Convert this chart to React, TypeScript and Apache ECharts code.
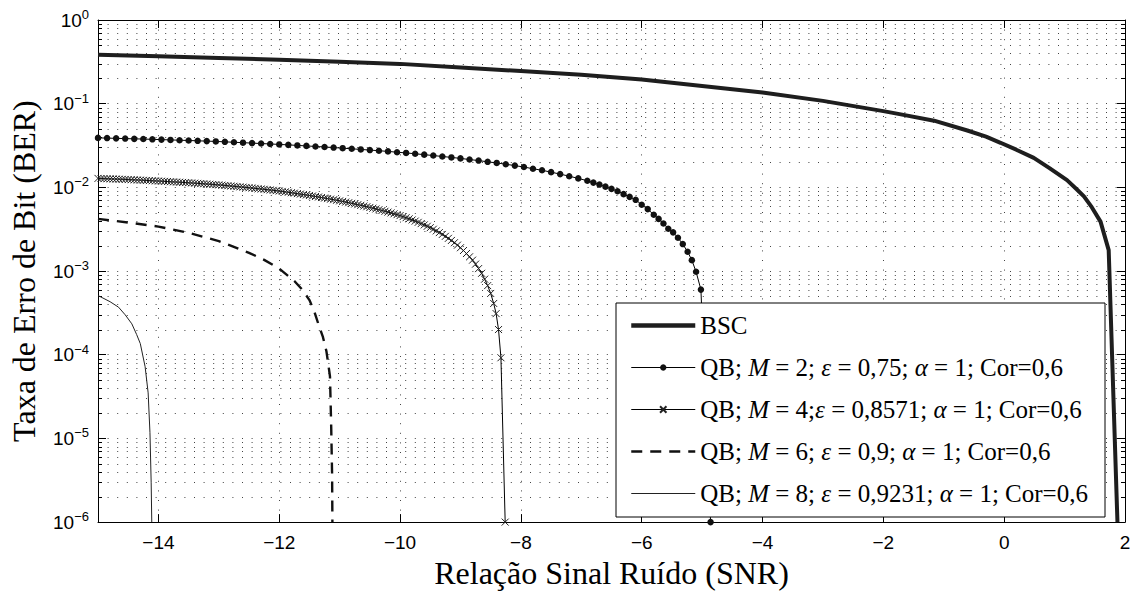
import React, { useEffect, useRef } from 'react';
import * as echarts from 'echarts';

// Axis ranges
const xMin = -15;
const xMax = 2;
const yMin = 1e-6;
const yMax = 1;

// Minor grid (2..9 per decade)
const decades = [1e-6, 1e-5, 1e-4, 1e-3, 1e-2, 1e-1];
const minorMultipliers = [2, 3, 4, 5, 6, 7, 8, 9];

// BSC
const bscSnr = [-15, -14, -13, -12, -11, -10, -9, -8, -7, -6, -5, -4, -3, -2, -1.71, -1.16, -0.61, -0.3, -0.06, 0.2, 0.49, 0.75, 1.04, 1.2, 1.32, 1.45, 1.595, 1.73, 1.875];
const bscBer = [0.385, 0.368, 0.352, 0.336, 0.318, 0.299, 0.271, 0.245, 0.221, 0.195, 0.163, 0.136, 0.108, 0.0815, 0.0745, 0.0626, 0.0478, 0.0403, 0.0341, 0.0282, 0.0225, 0.017, 0.0122, 0.0095, 0.0078, 0.0058, 0.0039, 0.00178, 0.000001];

// QB M=2
const m2Snr = [-15, -14.85, -14.7, -14.55, -14.4, -14.25, -14.1, -13.95, -13.8, -13.65, -13.5, -13.35, -13.2, -13.05, -12.9, -12.75, -12.6, -12.45, -12.3, -12.15, -12, -11.85, -11.7, -11.55, -11.4, -11.25, -11.1, -10.95, -10.8, -10.65, -10.5, -10.35, -10.2, -10.05, -9.9, -9.75, -9.6, -9.45, -9.3, -9.15, -9, -8.85, -8.7, -8.55, -8.4, -8.25, -8.1, -7.95, -7.8, -7.65, -7.5, -7.35, -7.2, -7.05, -6.9, -6.8, -6.7, -6.6, -6.5, -6.4, -6.3, -6.2, -6.1, -6, -5.9, -5.8, -5.72, -5.64, -5.56, -5.48, -5.4, -5.32, -5.24, -5.17, -5.1, -5.02, -4.86];
const m2Ber = [0.039, 0.0388, 0.0385, 0.0383, 0.038, 0.0378, 0.0375, 0.0372, 0.0369, 0.0366, 0.0363, 0.036, 0.0357, 0.0354, 0.035, 0.0346, 0.0342, 0.0338, 0.0334, 0.033, 0.0326, 0.0322, 0.0317, 0.0313, 0.0308, 0.0304, 0.0299, 0.0294, 0.0289, 0.0284, 0.0279, 0.0274, 0.0269, 0.0263, 0.0258, 0.0252, 0.0246, 0.024, 0.0234, 0.0228, 0.0222, 0.0215, 0.0209, 0.0202, 0.0196, 0.0189, 0.0182, 0.0175, 0.0167, 0.016, 0.0152, 0.0144, 0.0136, 0.0128, 0.012, 0.0114, 0.0108, 0.0102, 0.0096, 0.009, 0.0083, 0.0077, 0.0071, 0.0062, 0.0055, 0.0047, 0.0042, 0.0037, 0.0032, 0.0029, 0.0025, 0.0021, 0.0017, 0.00135, 0.00098, 0.0006, 0.000001];

// QB M=4
const m4Snr = [-15, -14.95, -14.9, -14.85, -14.8, -14.75, -14.7, -14.65, -14.6, -14.55, -14.5, -14.45, -14.4, -14.35, -14.3, -14.25, -14.2, -14.15, -14.1, -14.05, -14, -13.95, -13.9, -13.85, -13.8, -13.75, -13.7, -13.65, -13.6, -13.55, -13.5, -13.45, -13.4, -13.35, -13.3, -13.25, -13.2, -13.15, -13.1, -13.05, -13, -12.95, -12.9, -12.85, -12.8, -12.75, -12.7, -12.65, -12.6, -12.55, -12.5, -12.45, -12.4, -12.35, -12.3, -12.25, -12.2, -12.15, -12.1, -12.05, -12, -11.95, -11.9, -11.85, -11.8, -11.75, -11.7, -11.65, -11.6, -11.55, -11.5, -11.45, -11.4, -11.35, -11.3, -11.25, -11.2, -11.15, -11.1, -11.05, -11, -10.95, -10.9, -10.85, -10.8, -10.75, -10.7, -10.65, -10.6, -10.55, -10.5, -10.45, -10.4, -10.35, -10.3, -10.25, -10.2, -10.15, -10.1, -10.05, -10, -9.95, -9.9, -9.85, -9.8, -9.75, -9.7, -9.65, -9.6, -9.55, -9.5, -9.45, -9.4, -9.35, -9.3, -9.25, -9.2, -9.15, -9.1, -9.05, -9, -8.95, -8.9, -8.85, -8.8, -8.75, -8.7, -8.65, -8.6, -8.55, -8.5, -8.45, -8.41, -8.37, -8.33, -8.26];
const m4Ber = [0.0128, 0.01276, 0.01272, 0.01268, 0.01264, 0.0126, 0.01256, 0.01252, 0.01248, 0.01244, 0.0124, 0.01235, 0.0123, 0.01225, 0.0122, 0.01215, 0.0121, 0.01205, 0.012, 0.01195, 0.0119, 0.01185, 0.01179, 0.01174, 0.01168, 0.01163, 0.01157, 0.01152, 0.01146, 0.01141, 0.01135, 0.01129, 0.01122, 0.01116, 0.01109, 0.01103, 0.01096, 0.0109, 0.01083, 0.01077, 0.0107, 0.01062, 0.01054, 0.01046, 0.01038, 0.0103, 0.01022, 0.01014, 0.01006, 0.00998, 0.0099, 0.00981, 0.00973, 0.00964, 0.00956, 0.00948, 0.00939, 0.00931, 0.00922, 0.00914, 0.00905, 0.00895, 0.00884, 0.00874, 0.00863, 0.00853, 0.00842, 0.00832, 0.00821, 0.00811, 0.008, 0.00789, 0.00778, 0.00767, 0.00756, 0.00745, 0.00734, 0.00723, 0.00712, 0.00701, 0.0069, 0.00679, 0.00667, 0.00656, 0.00644, 0.00633, 0.00621, 0.0061, 0.00598, 0.00587, 0.00575, 0.00564, 0.00552, 0.00541, 0.00529, 0.00518, 0.00506, 0.00495, 0.00483, 0.00472, 0.0046, 0.00447, 0.00434, 0.00421, 0.00408, 0.00395, 0.00382, 0.00369, 0.00356, 0.00343, 0.0033, 0.00316, 0.00302, 0.00288, 0.00274, 0.0026, 0.00246, 0.00232, 0.00218, 0.00204, 0.0019, 0.00176, 0.00162, 0.00148, 0.00135, 0.00121, 0.00107, 0.00094, 0.0008, 0.00067, 0.00054, 0.00041, 0.00031, 0.0002, 0.000092, 0.000001];

// QB M=6
const m6Snr = [-15, -14.5, -14, -13.5, -13, -12.5, -12.25, -12, -11.75, -11.62, -11.5, -11.42, -11.35, -11.28, -11.22, -11.19, -11.16, -11.14, -11.125, -11.12];
const m6Ber = [0.0042, 0.0038, 0.0034, 0.00286, 0.00228, 0.00165, 0.00136, 0.00107, 0.00076, 0.0006, 0.00045, 0.00033, 0.00023, 0.000166, 0.000111, 0.000079, 0.000055, 0.000014, 0.0000037, 0.000001];

// QB M=8
const m8Snr = [-15, -14.8, -14.66, -14.55, -14.44, -14.36, -14.3, -14.22, -14.17, -14.14, -14.12, -14.11];
const m8Ber = [0.00051, 0.00043, 0.00037, 0.0003, 0.000234, 0.000174, 0.000136, 0.000072, 0.000035, 0.0000117, 0.000003, 0.000001];

const seriesNames = ['BSC', 'QB M=2', 'QB M=4', 'QB M=6', 'QB M=8'];
const legendLabels: Record<string, string> = {
  'BSC': 'BSC',
  'QB M=2': 'QB; {i|M} = 2; {i|ε} = 0,75; {i|α} = 1; Cor=0,6',
  'QB M=4': 'QB; {i|M} = 4;{i|ε} = 0,8571; {i|α} = 1; Cor=0,6',
  'QB M=6': 'QB; {i|M} = 6; {i|ε} = 0,9; {i|α} = 1; Cor=0,6',
  'QB M=8': 'QB; {i|M} = 8; {i|ε} = 0,9231; {i|α} = 1; Cor=0,6',
};

const xTitle = 'Relação Sinal Ruído (SNR)';
const yTitle = 'Taxa de Erro de Bit (BER)';

const SANS = 'Liberation Sans';
const SERIF = 'Liberation Serif';

const zip = (xs: number[], ys: number[]) => xs.map((x, i) => [x, ys[i]]);

export default function App() {
  const ref = useRef<HTMLDivElement>(null);

  useEffect(() => {
    if (!ref.current) return;
    const chart = echarts.init(ref.current, null, { renderer: 'svg' });

    const minorVals: number[] = [];
    decades.forEach((d) => minorMultipliers.forEach((m) => minorVals.push(m * d)));

    const gridDot = { color: '#444', width: 1, type: [1, 8.6] as number[] };
    const axisLine = { show: true, onZero: false, lineStyle: { color: '#000', width: 1 } };
    const axisTick = { show: true, inside: true, length: 8, lineStyle: { color: '#000' } };

    const option: any = {
      animation: false,
      backgroundColor: '#fff',
      grid: { left: 96, top: 20, right: 12, bottom: 67, containLabel: false },
      xAxis: [
        {
          type: 'value',
          min: xMin,
          max: xMax,
          splitNumber: 8,
          position: 'bottom',
          axisLine,
          axisTick,
          axisLabel: {
            showMinLabel: false,
            margin: 11,
            color: '#000',
            fontSize: 19,
            fontFamily: SANS,
            formatter: (v: number) => String(v).replace('-', '−'),
          },
          splitLine: { show: true, lineStyle: gridDot },
          name: xTitle,
          nameLocation: 'middle',
          nameGap: 32,
          nameTextStyle: { fontFamily: SERIF, fontSize: 32, color: '#000' },
        },
        {
          type: 'value',
          min: xMin,
          max: xMax,
          splitNumber: 8,
          position: 'top',
          axisLine,
          axisTick,
          axisLabel: { show: false },
          splitLine: { show: false },
        },
      ],
      yAxis: [
        {
          type: 'log',
          logBase: 10,
          min: yMin,
          max: yMax,
          position: 'left',
          axisLine,
          axisTick,
          axisLabel: {
            margin: 9,
            formatter: (v: number) => {
              const e = Math.round(Math.log10(v));
              return '{b|10}{s|' + (e < 0 ? '−' + -e : String(e)) + '}';
            },
            rich: {
              b: { fontSize: 19, fontFamily: SANS, color: '#000' },
              s: { fontSize: 13, fontFamily: SANS, color: '#000', padding: [0, 0, 11, 0] },
            },
          },
          splitLine: { show: true, lineStyle: gridDot },
          name: yTitle,
          nameLocation: 'middle',
          nameGap: 58,
          nameRotate: 90,
          nameTextStyle: { fontFamily: SERIF, fontSize: 32, color: '#000' },
        },
        {
          type: 'log',
          logBase: 10,
          min: yMin,
          max: yMax,
          position: 'right',
          axisLine,
          axisTick,
          axisLabel: { show: false },
          splitLine: { show: false },
        },
      ],
      legend: {
        data: [
          { name: seriesNames[0], lineStyle: { width: 4.5 }, itemStyle: { opacity: 0 } },
          { name: seriesNames[1], lineStyle: { width: 1 } },
          { name: seriesNames[2], lineStyle: { width: 1 } },
          { name: seriesNames[3], lineStyle: { width: 2.4 }, itemStyle: { opacity: 0 } },
          { name: seriesNames[4], lineStyle: { width: 1 }, itemStyle: { opacity: 0 } },
        ],
        orient: 'vertical',
        left: 629,
        top: 313,
        padding: 0,
        itemGap: 17,
        itemWidth: 64,
        itemHeight: 8,
        selectedMode: false,
        formatter: (name: string) => legendLabels[name],
        textStyle: {
          fontFamily: SERIF,
          fontSize: 25,
          color: '#000',
          rich: {
            i: { fontFamily: SERIF, fontSize: 25, fontStyle: 'italic', color: '#000' },
          },
        },
        z: 5,
      },
      graphic: {
        elements: [
          {
            type: 'rect',
            z: 4,
            silent: true,
            shape: { x: 616, y: 303, width: 489, height: 214 },
            style: { fill: '#fff', stroke: '#000', lineWidth: 1 },
          },
        ],
      },
      series: [
        {
          type: 'custom',
          name: 'minorGrid',
          silent: true,
          xAxisIndex: 0,
          yAxisIndex: 0,
          z: 1,
          data: minorVals.map((v) => [0, v]),
          renderItem: (params: any, api: any) => {
            const cs = params.coordSys;
            const y = Math.round(api.coord([0, api.value(1)])[1]) + 0.5;
            const x0 = cs.x;
            const x1 = cs.x + cs.width;
            return {
              type: 'group',
              children: [
                { type: 'line', shape: { x1: x0, y1: y, x2: x1, y2: y }, style: { stroke: '#444', lineWidth: 1, lineDash: [1, 8.6] } },
                { type: 'line', shape: { x1: x0, y1: y, x2: x0 + 4, y2: y }, style: { stroke: '#000', lineWidth: 1 } },
                { type: 'line', shape: { x1: x1 - 4, y1: y, x2: x1, y2: y }, style: { stroke: '#000', lineWidth: 1 } },
              ],
            };
          },
        },
        {
          name: 'BSC',
          type: 'line',
          data: zip(bscSnr, bscBer),
          symbol: 'none',
          lineStyle: { color: '#1e1e1e', width: 4 },
          itemStyle: { color: '#1e1e1e' },
          z: 3,
        },
        {
          name: 'QB M=2',
          type: 'line',
          data: zip(m2Snr, m2Ber),
          symbol: 'circle',
          symbolSize: 6.5,
          showAllSymbol: true,
          lineStyle: { color: '#000', width: 1 },
          itemStyle: { color: '#111' },
          z: 3,
        },
        {
          name: 'QB M=4',
          type: 'line',
          data: zip(m4Snr, m4Ber),
          symbol: 'path://M0,0L10,10M10,0L0,10',
          symbolSize: 7,
          showAllSymbol: true,
          lineStyle: { color: '#000', width: 1 },
          itemStyle: { color: 'none', borderColor: '#222', borderWidth: 1 },
          z: 3,
        },
        {
          name: 'QB M=6',
          type: 'line',
          data: zip(m6Snr, m6Ber),
          symbol: 'none',
          lineStyle: { color: '#111', width: 2.4, type: [11, 8] },
          itemStyle: { color: '#111' },
          z: 3,
        },
        {
          name: 'QB M=8',
          type: 'line',
          data: zip(m8Snr, m8Ber),
          symbol: 'none',
          lineStyle: { color: '#222', width: 1 },
          itemStyle: { color: '#222' },
          z: 3,
        },
      ],
    };

    chart.setOption(option);
    return () => chart.dispose();
  }, []);

  return (
    <div
      ref={ref}
      style={{ position: 'fixed', left: 0, top: 0, width: 1137, height: 594, background: '#fff' }}
    />
  );
}
